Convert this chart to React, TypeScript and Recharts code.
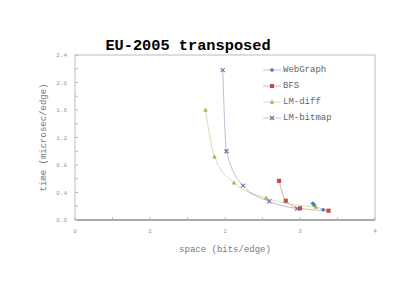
import { LineChart, Line, XAxis, YAxis, Legend, ReferenceLine } from 'recharts';

const webGraphX = [3.17, 3.19, 3.31];
const webGraphY = [0.24, 0.22, 0.15];
const bfsX = [2.72, 2.81, 3.0, 3.38];
const bfsY = [0.57, 0.28, 0.17, 0.135];
const lmDiffX = [1.74, 1.86, 2.12, 2.55, 3.21];
const lmDiffY = [1.6, 0.92, 0.54, 0.32, 0.19];
const lmBitmapX = [1.97, 2.02, 2.24, 2.59, 2.96];
const lmBitmapY = [2.18, 1.0, 0.5, 0.27, 0.165];

const xTicks = [0, 0.5, 1, 1.5, 2, 2.5, 3, 3.5, 4];
const yTicks = [0, 0.2, 0.4, 0.6, 0.8, 1, 1.2, 1.4, 1.6, 1.8, 2, 2.2, 2.4];
const yMajorTicks = [0, 0.4, 0.8, 1.2, 1.6, 2, 2.4];

const MONO = "'Liberation Mono', 'Courier New', monospace";

const toPoints = (xs: number[], ys: number[]) => xs.map((x, i) => ({ x, y: ys[i] }));

type Shape = 'diamond' | 'square' | 'triangle' | 'cross';

const series: { name: string; color: string; shape: Shape; data: { x: number; y: number }[] }[] = [
  { name: 'WebGraph', color: '#4a7ebb', shape: 'diamond', data: toPoints(webGraphX, webGraphY) },
  { name: 'BFS', color: '#c0504d', shape: 'square', data: toPoints(bfsX, bfsY) },
  { name: 'LM-diff', color: '#9bbb59', shape: 'triangle', data: toPoints(lmDiffX, lmDiffY) },
  { name: 'LM-bitmap', color: '#8064a2', shape: 'cross', data: toPoints(lmBitmapX, lmBitmapY) },
];

function Marker({ cx, cy, shape, color }: { cx: number; cy: number; shape: Shape; color: string }) {
  if (cx == null || cy == null) return null;
  switch (shape) {
    case 'diamond':
      return <path d={`M${cx},${cy - 2.3}L${cx + 2.3},${cy}L${cx},${cy + 2.3}L${cx - 2.3},${cy}Z`} fill={color} />;
    case 'square':
      return <rect x={cx - 2.1} y={cy - 2.1} width={4.2} height={4.2} fill={color} />;
    case 'triangle':
      return <path d={`M${cx},${cy - 2.5}L${cx + 2.3},${cy + 1.7}L${cx - 2.3},${cy + 1.7}Z`} fill={color} />;
    default:
      return (
        <path
          d={`M${cx - 2},${cy - 2}L${cx + 2},${cy + 2}M${cx + 2},${cy - 2}L${cx - 2},${cy + 2}`}
          stroke={color}
          strokeWidth={1.1}
        />
      );
  }
}

function LegendBox() {
  return (
    <div style={{ fontFamily: MONO, fontSize: 9, color: '#666' }}>
      {series.map((s) => (
        <div key={s.name} style={{ display: 'flex', alignItems: 'center', height: 16 }}>
          <svg width={21} height={10}>
            <line x1={1} y1={5} x2={19} y2={5} stroke={s.color} strokeOpacity={0.4} />
            <Marker cx={10} cy={5} shape={s.shape} color={s.color} />
          </svg>
          <span>{s.name}</span>
        </div>
      ))}
    </div>
  );
}

function XTitle({ viewBox }: any) {
  if (!viewBox) return null;
  return (
    <text x={viewBox.x + viewBox.width / 2} y={viewBox.y + 32} textAnchor="middle" fontFamily={MONO} fontSize={9} fill="#777">
      space (bits/edge)
    </text>
  );
}

function YTitle({ viewBox }: any) {
  if (!viewBox) return null;
  const x = viewBox.x + 46;
  const y = viewBox.y + viewBox.height / 2;
  return (
    <text x={x} y={y} transform={`rotate(-90, ${x}, ${y})`} textAnchor="middle" fontFamily={MONO} fontSize={9} fill="#777">
      time (microsec/edge)
    </text>
  );
}

export default function App() {
  return (
    <div style={{ position: 'absolute', left: 0, top: 0, width: 406, height: 287, background: '#fff' }}>
      <div
        style={{
          position: 'absolute',
          left: 188,
          top: 39,
          transform: 'translateX(-50%)',
          fontFamily: MONO,
          fontWeight: 'bold',
          fontSize: 15.3,
          lineHeight: '15px',
          whiteSpace: 'nowrap',
          color: '#000',
        }}
      >
        EU-2005 transposed
      </div>
      <LineChart width={406} height={287} margin={{ top: 55, right: 30, bottom: 33, left: 0 }}>
        <XAxis
          type="number"
          dataKey="x"
          domain={[0, 4]}
          ticks={xTicks}
          allowDataOverflow
          tickFormatter={(v: number) => (Number.isInteger(v) ? String(v) : '')}
          tickSize={-3}
          tickMargin={12}
          height={34}
          axisLine={{ stroke: '#aaa', strokeWidth: 2 }}
          tickLine={{ stroke: '#bbb' }}
          tick={{ fontFamily: MONO, fontSize: 6, fill: '#999' }}
          label={<XTitle />}
        />
        <YAxis
          type="number"
          domain={[0, 2.4]}
          ticks={yTicks}
          allowDataOverflow
          tickFormatter={(v: number) => (Math.round(v * 10) % 4 === 0 ? v.toFixed(1) : '')}
          tickSize={-3}
          tickMargin={11}
          width={75}
          axisLine={{ stroke: '#bbb' }}
          tickLine={{ stroke: '#bbb' }}
          tick={{ fontFamily: MONO, fontSize: 6, fill: '#999' }}
          label={<YTitle />}
        />
        <YAxis
          yAxisId="right"
          orientation="right"
          type="number"
          domain={[0, 2.4]}
          ticks={yMajorTicks}
          tickFormatter={() => ''}
          tickSize={-3}
          width={1}
          axisLine={{ stroke: '#bbb' }}
          tickLine={{ stroke: '#bbb' }}
        />
        <ReferenceLine y={2.4} stroke="#bbb" />
        {series.map((s) => (
          <Line
            key={s.name}
            name={s.name}
            data={s.data}
            dataKey="y"
            type="monotone"
            stroke={s.color}
            strokeOpacity={0.45}
            strokeWidth={1}
            isAnimationActive={false}
            dot={(p: any) => <Marker key={`${s.name}-${p.index}`} cx={p.cx} cy={p.cy} shape={s.shape} color={s.color} />}
            activeDot={false}
          />
        ))}
        <Legend
          layout="vertical"
          align="center"
          verticalAlign="middle"
          content={() => <LegendBox />}
          wrapperStyle={{ left: 262, top: 62, width: 100, height: 66 }}
        />
      </LineChart>
    </div>
  );
}
